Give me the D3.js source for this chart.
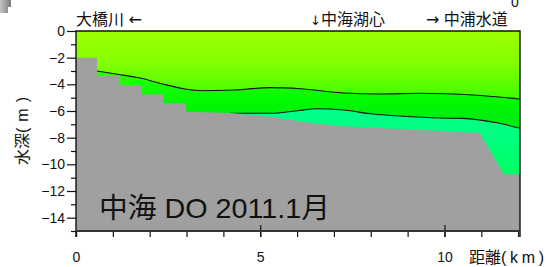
<!DOCTYPE html>
<html>
<head>
<meta charset="utf-8">
<script src="https://cdn.jsdelivr.net/npm/d3@7"></script>
<style>
  body { margin: 0; background: #fff; }
  text { font-family: "Liberation Sans", "Noto Sans CJK JP", sans-serif; }
</style>
</head>
<body>
<div id="chart"></div>
<script>
// distance along the transect (km) and depth (m)
var bedDist  = [0, 0.57, 0.57, 1.17, 1.17, 1.78, 1.78, 2.37, 2.37, 2.99, 2.99, 4.2, 5.1, 5.8, 6.5, 7.3, 8.8, 10.96, 11.61, 12.05];
var bedDepth = [-2, -2, -3.35, -3.35, -4.05, -4.05, -4.75, -4.75, -5.42, -5.42, -6.05, -6.15, -6.35, -6.65, -6.95, -7.15, -7.35, -7.65, -10.75, -10.75];

// upper DO contour
var upperDist  = [0.57, 1.17, 1.74, 2.36, 2.96, 3.37, 4.3, 5.27, 6.09, 7.17, 8.26, 9.35, 10.79, 12.05];
var upperDepth = [-3.0, -3.26, -3.53, -3.98, -4.35, -4.48, -4.42, -4.25, -4.33, -4.63, -4.73, -4.67, -4.8, -5.1];

// lower DO contour
var lowerDist  = [4.18, 5.27, 6.0, 6.54, 7.26, 8.05, 8.78, 9.86, 10.49, 11.49, 12.05];
var lowerDepth = [-6.17, -6.17, -5.98, -5.83, -5.93, -6.23, -6.38, -6.53, -6.55, -6.92, -7.3];

var xMajor = [0, 5, 10];
var xMinor = [0, 1, 2, 3, 4, 5, 6, 7, 8, 9, 10, 11, 12];
var yMajor = [0, -2, -4, -6, -8, -10, -12, -14];
var yMinor = [-1, -3, -5, -7, -9, -11, -13, -15];

var svgWidth = 549, svgHeight = 267;
var margin = { top: 31, right: 29, bottom: 36, left: 76 };
var width = svgWidth - margin.left - margin.right;
var height = svgHeight - margin.top - margin.bottom;

var svg = d3.select("#chart").append("svg")
  .attr("width", svgWidth)
  .attr("height", svgHeight);

var defs = svg.append("defs");
function vGrad(id, stops) {
  var g = defs.append("linearGradient").attr("id", id)
    .attr("gradientUnits", "userSpaceOnUse")
    .attr("x1", 0).attr("x2", 0);
  g.attr("y1", stops[0][0]).attr("y2", stops[stops.length - 1][0]);
  var y0 = stops[0][0], y1 = stops[stops.length - 1][0];
  stops.forEach(function(s) {
    g.append("stop").attr("offset", (s[0] - y0) / (y1 - y0)).attr("stop-color", s[1]);
  });
}

var x = d3.scaleLinear().domain([0, 12.05]).range([0, width]);
var y = d3.scaleLinear().domain([0, -15]).range([0, height]);

vGrad("gTop", [[y(0), "#a0ff00"], [y(-2.5), "#80ff00"], [y(-5), "#40ff00"]]);
vGrad("gMid", [[y(-3.5), "#28ff00"], [y(-5.2), "#00fa00"], [y(-7), "#00ea14"]]);
vGrad("gLow", [[y(-5.8), "#00ff88"], [y(-8), "#00ff80"], [y(-11), "#00ff60"]]);

// little corner mark top-left
var cg = defs.append("linearGradient").attr("id", "gCorner");
cg.append("stop").attr("offset", 0).attr("stop-color", "#c4c4c4");
cg.append("stop").attr("offset", 1).attr("stop-color", "#7a7a7a");
svg.append("path")
  .attr("d", "M0,0H11V7H8V13H0Z")
  .attr("fill", "url(#gCorner)");

var chartGroup = svg.append("g")
  .attr("transform", `translate(${margin.left}, ${margin.top})`);

var upper = upperDist.map((d, i) => [d, upperDepth[i]]);
var lower = lowerDist.map((d, i) => [d, lowerDepth[i]]);
var bed = bedDist.map((d, i) => [d, bedDepth[i]]);

// water layers
chartGroup.append("rect")
  .attr("width", width).attr("height", height)
  .attr("fill", "url(#gTop)");

var fillBelow = d3.area()
  .x(d => x(d[0])).y0(height).y1(d => y(d[1]))
  .curve(d3.curveMonotoneX);

chartGroup.append("path").datum(upper)
  .attr("d", fillBelow).attr("fill", "url(#gMid)");
chartGroup.append("path").datum(lower)
  .attr("d", fillBelow).attr("fill", "url(#gLow)");

var line = d3.line().x(d => x(d[0])).y(d => y(d[1])).curve(d3.curveMonotoneX);
[upper, lower].forEach(function(c) {
  chartGroup.append("path").datum(c)
    .attr("d", line)
    .attr("fill", "none")
    .attr("stroke", "#111")
    .attr("stroke-width", 1.1);
});

// bottom (bathymetry)
chartGroup.append("path").datum(bed)
  .attr("d", d3.area().x(d => x(d[0])).y0(height).y1(d => y(d[1])))
  .attr("fill", "#a0a0a0");

// title
chartGroup.append("text")
  .attr("x", 23).attr("y", 187)
  .attr("font-size", 28)
  .attr("font-family", "Noto Sans CJK JP")
  .attr("textLength", 231)
  .attr("lengthAdjust", "spacingAndGlyphs")
  .attr("fill", "#111")
  .text("中海 DO 2011.1月");

// axes
var leftMajor = chartGroup.append("g")
  .call(d3.axisLeft(y).tickValues(yMajor).tickSize(9).tickPadding(2));
var leftMinor = chartGroup.append("g")
  .call(d3.axisLeft(y).tickValues(yMinor).tickSize(5).tickFormat(""));
var botMinor = chartGroup.append("g")
  .attr("transform", `translate(0, ${height})`)
  .call(d3.axisBottom(x).tickValues(xMinor).tickSize(6).tickFormat(""));
var botMajor = chartGroup.append("g")
  .attr("transform", `translate(0, ${height})`)
  .call(d3.axisBottom(x).tickValues(xMajor).tickSize(6).tickPadding(15));
var botMajorUp = chartGroup.append("g")
  .attr("transform", `translate(0, ${height})`)
  .call(d3.axisTop(x).tickValues(xMajor.slice(1)).tickSize(6).tickFormat(""));

[leftMajor, leftMinor, botMinor, botMajor, botMajorUp].forEach(function(g) {
  g.select(".domain").remove();
  g.selectAll("line").attr("stroke", "#111").attr("stroke-width", 1.2);
  g.selectAll("text").attr("font-size", 14).attr("fill", "#111")
    .attr("font-family", "Liberation Sans");
});

// frame
chartGroup.append("path")
  .attr("d", `M0,${height + 6}V0H${width}V${height + 6}`)
  .attr("fill", "none").attr("stroke", "#111").attr("stroke-width", 1.4);
chartGroup.append("line")
  .attr("x1", 0).attr("x2", width).attr("y1", height).attr("y2", height)
  .attr("stroke", "#333").attr("stroke-width", 2);

// labels
var cjk = "Noto Sans CJK JP";
var arrowFont = "DejaVu Sans";

var t1 = svg.append("text")
  .attr("x", 76).attr("y", 25).attr("font-size", 16).attr("fill", "#111")
  .attr("font-family", cjk);
t1.append("tspan").text("大橋川 ");
t1.append("tspan").attr("font-family", arrowFont).text("←");

var t2 = svg.append("text")
  .attr("x", 310).attr("y", 25).attr("font-size", 16).attr("fill", "#111")
  .attr("font-family", cjk);
t2.append("tspan").attr("font-family", arrowFont).attr("font-size", 13).text("↓");
t2.append("tspan").text("中海湖心");

var t3 = svg.append("text")
  .attr("x", 426).attr("y", 25).attr("font-size", 16).attr("fill", "#111")
  .attr("font-family", cjk);
t3.append("tspan").attr("font-family", arrowFont).text("→");
t3.append("tspan").text(" 中浦水道");

svg.append("text")
  .attr("x", 515).attr("y", 7).attr("font-size", 14).attr("fill", "#111")
  .attr("text-anchor", "middle")
  .text("0");

var t4 = svg.append("text")
  .attr("x", 469).attr("y", 263).attr("font-size", 16).attr("fill", "#111")
  .attr("font-family", cjk);
t4.append("tspan").text("距離");
t4.append("tspan").attr("textLength", 43).attr("lengthAdjust", "spacing").text("(km)");

var t5 = svg.append("text")
  .attr("transform", "translate(28, 97) rotate(-90)")
  .attr("text-anchor", "end")
  .attr("font-size", 16).attr("fill", "#111")
  .attr("font-family", cjk);
t5.append("tspan").text("水深");
t5.append("tspan").attr("textLength", 36).attr("lengthAdjust", "spacing").text("(m)");
</script>
</body>
</html>
